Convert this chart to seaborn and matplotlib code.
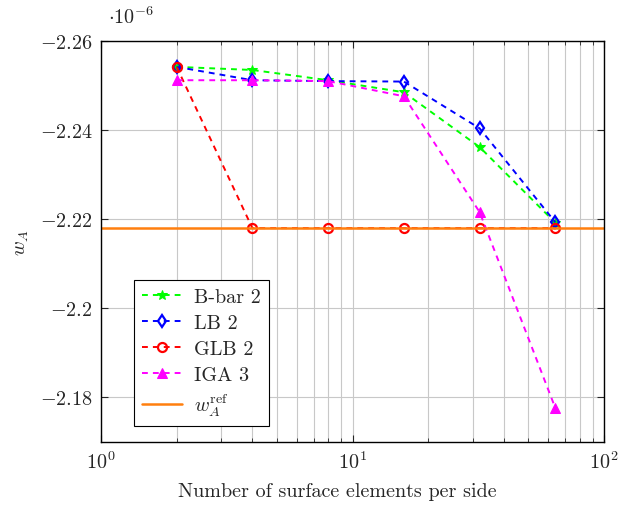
import numpy as np
import pandas as pd
import matplotlib
matplotlib.use('Agg')
import matplotlib.pyplot as plt
import matplotlib.ticker as mticker
import seaborn as sns

# number of surface elements per side
n_elem = [2, 4, 8, 16, 32, 64]

# w_A values in units of 1e-6
bbar2 = [-2.2542, -2.2535, -2.2512, -2.2485, -2.2362, -2.2192]
lb2 = [-2.2542, -2.2512, -2.2510, -2.2509, -2.2404, -2.2193]
glb2 = [-2.2542, -2.2180, -2.2180, -2.2180, -2.2180, -2.2180]
iga3 = [-2.2512, -2.2512, -2.2510, -2.2476, -2.2216, -2.1776]
w_ref = -2.2180

y_ticks = [-2.26, -2.24, -2.22, -2.2, -2.18]

sns.set_style('ticks')
plt.rcParams['font.family'] = 'serif'
plt.rcParams['font.serif'] = ['cmr10', 'DejaVu Serif']
plt.rcParams['mathtext.fontset'] = 'cm'
plt.rcParams['axes.formatter.use_mathtext'] = True
plt.rcParams['font.size'] = 14.5

fig = plt.figure(figsize=(6.19, 5.10), dpi=100)
ax = fig.add_axes([0.163, 0.1314, 0.813, 0.7862])

ax.grid(True, which='major', color='#c8c8c8', linewidth=0.8)
ax.grid(True, which='minor', axis='x', color='#c8c8c8', linewidth=0.8)
ax.set_axisbelow(True)

series = [
    ('B-bar 2', bbar2, '#00ff00', '*', dict(markersize=7)),
    ('LB 2', lb2, '#0000ff', 'd', dict(markersize=6, markerfacecolor='none', markeredgewidth=1.6)),
    ('GLB 2', glb2, '#ff0000', 'o', dict(markersize=6.5, markerfacecolor='none', markeredgewidth=1.6)),
    ('IGA 3', iga3, '#ff00ff', '^', dict(markersize=7)),
]
for name, vals, col, mk, kw in series:
    df = pd.DataFrame({'n': n_elem, 'w': vals})
    sns.lineplot(data=df, x='n', y='w', ax=ax, color=col, marker=mk,
                 linestyle=(0, (3.0, 2.6)), linewidth=1.4, markeredgecolor=col,
                 label=name, **kw)

ax.axhline(w_ref, color='#ff7f0e', linewidth=1.8, label=r'$w_A^{\mathrm{ref}}$')

ax.set_xscale('log')
ax.set_xlim(1, 100)
ax.set_ylim(-2.17, -2.26)
ax.set_yticks(y_ticks)
ax.yaxis.set_major_formatter(mticker.FuncFormatter(lambda v, p: r'$-%g$' % abs(round(v, 4))))

ax.tick_params(which='both', direction='in', top=True, right=True)
ax.tick_params(which='major', length=5, pad=6)
ax.tick_params(which='minor', length=3)
for s in ax.spines.values():
    s.set_color('black')
    s.set_linewidth(1.0)

ax.set_xlabel('Number of surface elements per side')
ax.xaxis.set_label_coords(0.47, -0.1)
ax.set_ylabel(r'$w_A$', labelpad=6)
ax.text(0.014, 1.062, r'$\cdot 10^{-6}$', transform=ax.transAxes, ha='left', va='center')

leg = ax.legend(loc='lower left', bbox_to_anchor=(0.065, 0.04), borderaxespad=0,
                fancybox=False, edgecolor='black', framealpha=1, handlelength=2.0,
                borderpad=0.4, labelspacing=0.38, handletextpad=0.6)
leg.get_frame().set_linewidth(0.8)

fig.savefig('out.png', dpi=100)
